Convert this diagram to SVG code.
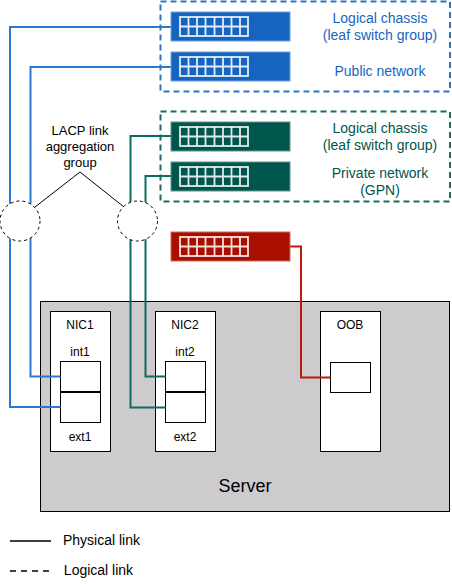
<svg xmlns="http://www.w3.org/2000/svg" width="452" height="585" viewBox="0 0 452 585">
<style>
text{font-family:"Liberation Sans",Arial,sans-serif;font-size:12px;text-anchor:middle;fill:#000}
.big{font-size:14px}
.mid{font-size:13px}
.bt{fill:#1565c0}.gt{fill:#00564d}
.b{fill:#1565c0}.g{fill:#00564d}
.box{fill:#fff;stroke:#000;stroke-width:1}
.link{fill:none;stroke-width:2}
.sw{stroke-width:1}
.grid{fill:none;stroke:#fff;stroke-opacity:.88;stroke-width:1.800}
.grp{fill:none;stroke-width:2;stroke-dasharray:6 4}
.circ{fill:#fff;stroke:#000;stroke-width:1;stroke-dasharray:3 3}
</style>
<defs>
<g id="grid">
<rect class="grid" x="0" y="0" width="68" height="19"/>
<path class="grid" d="M0 9.500H68M8.500 0V19M17 0V19M25.500 0V19M34.500 0V19M43 0V19M51.500 0V19M60 0V19"/>
</g>
</defs>
<g id="server">
<rect x="40.500" y="301.500" width="409" height="210" fill="#cdcbce" stroke="#000"/>
<text x="245" y="492" style="font-size:18px">Server</text>
</g>
<g id="group-blue"><rect class="grp" x="160.500" y="1.500" width="289.500" height="90" stroke="#2f74bf"/></g>
<g id="group-green"><rect class="grp" x="160.500" y="111.500" width="289.500" height="90" stroke="#1f6a63"/></g>
<g id="nic1">
<rect class="box" x="50.500" y="311.500" width="60" height="140"/>
<text x="80" y="329">NIC1</text><text x="80" y="356">int1</text><text x="80" y="441">ext1</text>
<rect class="box" x="60.500" y="361.500" width="40" height="30"/>
<rect class="box" x="60.500" y="392.500" width="40" height="30"/>
</g>
<g id="nic2">
<rect class="box" x="155.500" y="311.500" width="60" height="140"/>
<text x="185" y="329">NIC2</text><text x="185" y="356">int2</text><text x="185" y="441">ext2</text>
<rect class="box" x="165.500" y="361.500" width="40" height="30"/>
<rect class="box" x="165.500" y="392.500" width="40" height="30"/>
</g>
<g id="oob">
<rect class="box" x="320.500" y="311.500" width="60" height="140"/>
<text x="350" y="329">OOB</text>
<rect class="box" x="330.500" y="362.500" width="40" height="30"/>
</g>
<g id="connectors">
<path class="link" d="M171 27H10V407H60.500" stroke="#2a78d4"/>
<path class="link" d="M171 67H30.500V376.500H60.500" stroke="#2a78d4"/>
<path class="link" d="M171 136H130.500V407.500H165.500" stroke="#0f6b60"/>
<path class="link" d="M171 176H145.500V376.500H165.500" stroke="#0f6b60"/>
<path class="link" d="M290 246.500H301V377.500H330.500" stroke="#bf1a0a"/>
<path fill="none" stroke="#000" d="M35 207L80 172L124 207"/>
</g>
<g id="sw1"><rect class="b sw" x="171" y="12" width="119" height="29" stroke="#6fa3da"/><use href="#grid" x="180" y="17"/></g>
<g id="sw2"><rect class="b sw" x="171" y="52" width="119" height="29" stroke="#6fa3da"/><use href="#grid" x="180" y="57"/></g>
<g id="sw3"><rect class="g sw" x="171" y="122" width="119" height="29" stroke="#5f9490"/><use href="#grid" x="180" y="127"/></g>
<g id="sw4"><rect class="g sw" x="171" y="162" width="119" height="29" stroke="#5f9490"/><use href="#grid" x="180" y="167"/></g>
<g id="sw5"><rect x="171" y="232" width="119" height="29" fill="#a80f00" stroke="#cc6a60"/><use href="#grid" x="180" y="237"/></g>
<g id="labels-blue">
<text class="big bt" x="380" y="23">Logical chassis</text>
<text class="big bt" x="380" y="40">(leaf switch group)</text>
<text class="big bt" x="380" y="76">Public network</text>
</g>
<g id="labels-green">
<text class="big gt" x="380" y="133">Logical chassis</text>
<text class="big gt" x="380" y="150">(leaf switch group)</text>
<text class="big gt" x="380" y="178">Private network</text>
<text class="big gt" x="380" y="195">(GPN)</text>
</g>
<g id="lacp">
<text class="mid" x="80" y="135">LACP link</text>
<text class="mid" x="80" y="151">aggregation</text>
<text class="mid" x="80" y="167">group</text>
<circle class="circ" cx="20" cy="221" r="20"/>
<circle class="circ" cx="137.500" cy="221" r="20"/>
</g>
<g id="legend">
<path d="M10 541H51" stroke="#000" stroke-width="1.500" fill="none"/>
<path d="M10 571H51" stroke="#000" stroke-width="1.500" stroke-dasharray="6 5" fill="none"/>
<text class="big" x="101.500" y="545">Physical link</text>
<text class="big" x="98.500" y="575">Logical link</text>
</g>
</svg>
